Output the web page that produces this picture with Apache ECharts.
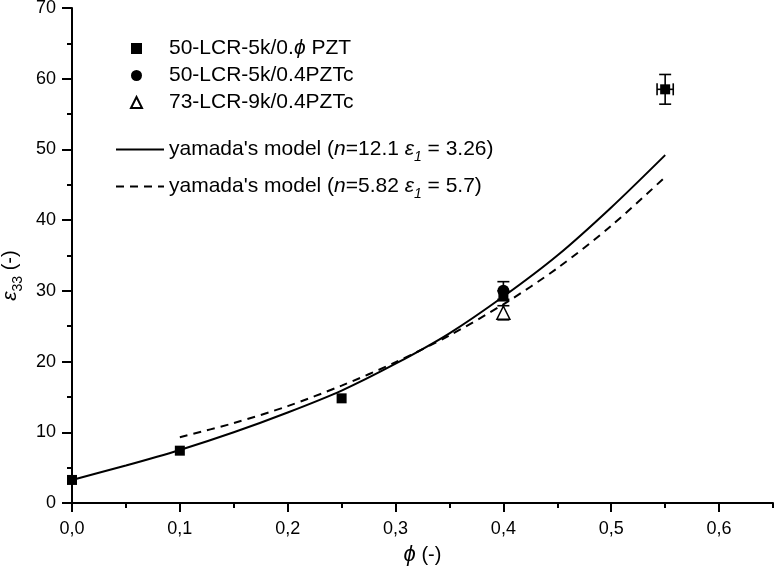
<!DOCTYPE html>
<html>
<head>
<meta charset="utf-8">
<script src="https://cdn.jsdelivr.net/npm/echarts@6/dist/echarts.min.js"></script>
<style>
html,body{margin:0;padding:0;background:#fff;}
#chart{width:774px;height:573px;}
</style>
</head>
<body>
<div id="chart"></div>
<script>
// ---- data ----
var xTicks = [0, 0.1, 0.2, 0.3, 0.4, 0.5, 0.6];
var squarePts = [[0, 3.26], [0.1, 7.4], [0.25, 14.8], [0.4, 29.3], [0.55, 58.5]];
var circlePts = [[0.4, 30.0]];
var trianglePts = [[0.4, 26.9]];
// error bars: [x, y, yLow, yHigh, xLow, xHigh]
var errorBars = [
  [0.4, 29.3, 28.6, 30.0, 0.4, 0.4],
  [0.4, 30.0, 28.8, 31.3, 0.4, 0.4],
  [0.4, 26.9, 25.9, 27.9, 0.4, 0.4],
  [0.55, 58.5, 56.4, 60.6, 0.5425, 0.5575]
];
var solidX = [0, 0.05, 0.1, 0.15, 0.2, 0.25, 0.3, 0.35, 0.4, 0.45, 0.5, 0.55];
var solidY = [3.26, 5.3, 7.5, 10.0, 12.8, 15.9, 19.7, 24.0, 29.2, 35.0, 41.8, 49.2];
var dashX = [0.1, 0.15, 0.2, 0.25, 0.3, 0.35, 0.4, 0.45, 0.5, 0.55];
var dashY = [9.3, 11.3, 13.7, 16.6, 19.9, 23.7, 28.1, 33.2, 39.2, 46.1];

var names = {
  sq: '50-LCR-5k/0.{i|ϕ} PZT',
  ci: '50-LCR-5k/0.4PZTc',
  tr: '73-LCR-9k/0.4PZTc',
  solid: "yamada's model ({i|n}=12.1 {i|ε}{sub|1} = 3.26)",
  dash: "yamada's model ({i|n}=5.82 {i|ε}{sub|1} = 5.7)"
};

function pairs(xs, ys) { return xs.map(function (x, i) { return [x, ys[i]]; }); }

var FONT = "'Liberation Sans', Arial, 'DejaVu Sans', sans-serif";
var LFS = 21;
var richLegend = {
  i: { fontStyle: 'italic', fontSize: LFS, fontFamily: FONT, color: '#000' },
  sub: { fontStyle: 'italic', fontSize: 14, fontFamily: FONT, color: '#000', verticalAlign: 'bottom', lineHeight: 29 }
};

var chart = echarts.init(document.getElementById('chart'), null, { renderer: 'canvas' });

var option = {
  backgroundColor: '#fff',
  animation: false,
  grid: { left: 72, right: 1, top: 8, bottom: 70, containLabel: false, outerBoundsMode: 'none' },
  legend: [
    {
      left: 130, top: 38, orient: 'vertical', itemGap: 6, padding: 0,
      itemWidth: 11, itemHeight: 11,
      data: ['sq', 'ci', 'tr'],
      formatter: function (n) { return names[n]; },
      textStyle: { fontSize: LFS, fontFamily: FONT, color: '#000', rich: richLegend, padding: [0, 0, 0, 22] },
      selectedMode: false
    },
    {
      left: 115, top: 139, orient: 'vertical', itemGap: 12, padding: 0,
      itemWidth: 48, itemHeight: 14,
      data: ['solid', 'dash'],
      formatter: function (n) { return names[n]; },
      textStyle: { fontSize: LFS, fontFamily: FONT, color: '#000', rich: richLegend },
      selectedMode: false
    }
  ],
  xAxis: [
    {
      type: 'value', min: 0, max: 0.65, interval: 0.1, position: 'bottom',
      name: '{i|ϕ} (-)', nameLocation: 'middle', nameGap: 41,
      nameTextStyle: { fontSize: 20, fontFamily: FONT, color: '#000',
        rich: { i: { fontStyle: 'italic', fontSize: 22, fontFamily: FONT, color: '#000' } } },
      axisLine: { show: true, lineStyle: { color: '#000', width: 2 } },
      axisTick: { show: true, length: 9, lineStyle: { color: '#000', width: 2 }, customValues: xTicks },
      axisLabel: {
        show: true, margin: 17, fontSize: 18, fontFamily: FONT, color: '#000', customValues: xTicks,
        formatter: function (v) {
          if (Math.abs(v * 10 - Math.round(v * 10)) > 1e-6) return '';
          return v.toFixed(1).replace('.', ',');
        }
      },
      splitLine: { show: false }
    },
    {
      type: 'value', min: 0, max: 0.65, interval: 0.05, position: 'bottom',
      axisLine: { show: false },
      axisTick: { show: true, length: 5, lineStyle: { color: '#000', width: 2 } },
      axisLabel: { show: false },
      splitLine: { show: false }
    }
  ],
  yAxis: {
    type: 'value', min: 0, max: 70, interval: 10,
    name: '{i|ε}{sub|33} (-)', nameLocation: 'middle', nameGap: 40, nameRotate: 90,
    nameTextStyle: { fontSize: 20, fontFamily: FONT, color: '#000', padding: [0, 40, 0, 0],
      rich: {
        i: { fontStyle: 'italic', fontSize: 21, fontFamily: FONT, color: '#000' },
        sub: { fontSize: 14, fontFamily: FONT, color: '#000', verticalAlign: 'bottom', lineHeight: 30 }
      } },
    axisLine: { show: true, lineStyle: { color: '#000', width: 2 } },
    axisTick: { show: true, length: 10, lineStyle: { color: '#000', width: 2 } },
    minorTick: { show: true, splitNumber: 2, length: 5, lineStyle: { color: '#000', width: 2 } },
    axisLabel: { margin: 16, fontSize: 18, fontFamily: FONT, color: '#000' },
    splitLine: { show: false }
  },
  series: [
    {
      type: 'custom', name: 'err', z: 1, silent: true,
      renderItem: function (params, api) {
        var x = api.value(0), y = api.value(1);
        var yl = api.value(2), yh = api.value(3), xl = api.value(4), xh = api.value(5);
        var pLow = api.coord([x, yl]), pHigh = api.coord([x, yh]);
        var pL = api.coord([xl, y]), pR = api.coord([xh, y]);
        var cap = 6;
        var st = { stroke: '#000', lineWidth: 1.6 };
        var ch = [
          { type: 'line', shape: { x1: pLow[0], y1: pLow[1], x2: pHigh[0], y2: pHigh[1] }, style: st },
          { type: 'line', shape: { x1: pLow[0] - cap, y1: pLow[1], x2: pLow[0] + cap, y2: pLow[1] }, style: st },
          { type: 'line', shape: { x1: pHigh[0] - cap, y1: pHigh[1], x2: pHigh[0] + cap, y2: pHigh[1] }, style: st }
        ];
        if (xh > xl) {
          ch.push({ type: 'line', shape: { x1: pL[0], y1: pL[1], x2: pR[0], y2: pR[1] }, style: st });
          ch.push({ type: 'line', shape: { x1: pL[0], y1: pL[1] - cap, x2: pL[0], y2: pL[1] + cap }, style: st });
          ch.push({ type: 'line', shape: { x1: pR[0], y1: pR[1] - cap, x2: pR[0], y2: pR[1] + cap }, style: st });
        }
        return { type: 'group', children: ch };
      },
      data: errorBars
    },
    {
      type: 'line', name: 'solid', data: pairs(solidX, solidY), smooth: 0.3,
      symbol: 'none', showSymbol: false, z: 2,
      lineStyle: { color: '#000', width: 2 }, itemStyle: { color: 'rgba(0,0,0,0)' }
    },
    {
      type: 'line', name: 'dash', data: pairs(dashX, dashY), smooth: 0.3,
      symbol: 'none', showSymbol: false, z: 2,
      lineStyle: { color: '#000', width: 2, type: [8, 6] }, itemStyle: { color: 'rgba(0,0,0,0)' }
    },
    {
      type: 'scatter', name: 'tr', data: trianglePts, symbol: 'triangle', symbolSize: 13, z: 3,
      itemStyle: { color: '#fff', borderColor: '#000', borderWidth: 1.5, opacity: 1 }
    },
    {
      type: 'scatter', name: 'sq', data: squarePts, symbol: 'rect', symbolSize: 10, z: 4,
      itemStyle: { color: '#000', opacity: 1 }
    },
    {
      type: 'scatter', name: 'ci', data: circlePts, symbol: 'circle', symbolSize: 12, z: 5,
      itemStyle: { color: '#000', opacity: 1 }
    }
  ]
};
chart.setOption(option);
</script>
</body>
</html>
